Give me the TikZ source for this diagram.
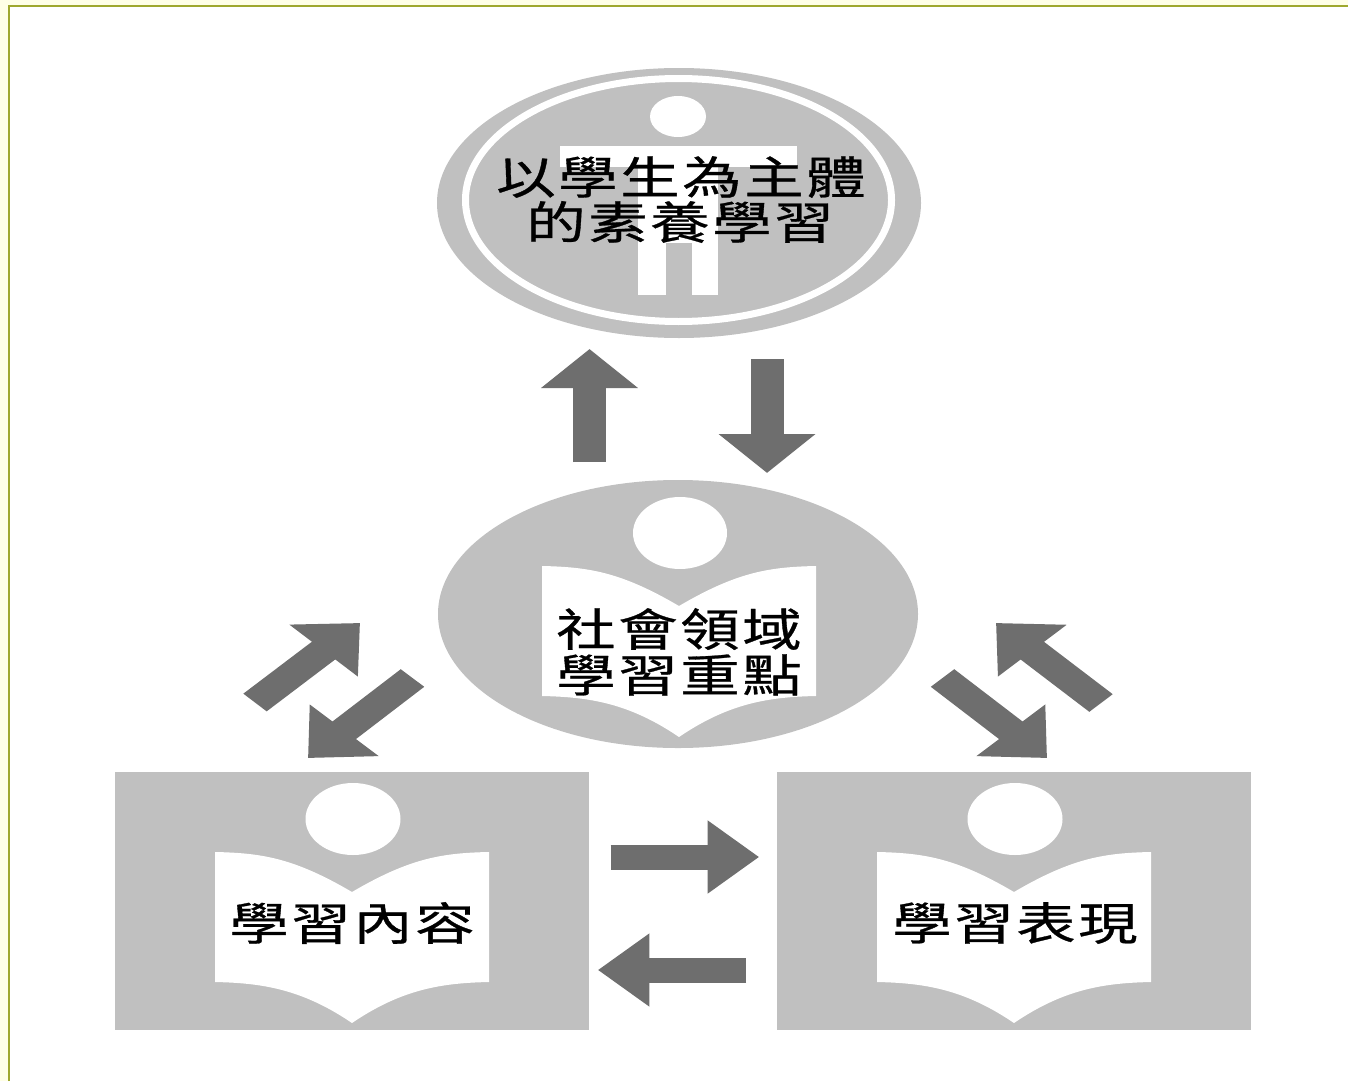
\documentclass[tikz,border=0pt]{standalone}
\usepackage{fontspec}
\newfontfamily\cjkfont[FakeBold=0.6]{Noto Sans CJK TC}
\usetikzlibrary{arrows.meta,calc,positioning,shapes.geometric}
\definecolor{panelgray}{HTML}{C0C0C0}
\definecolor{arrowgray}{HTML}{6E6E6E}
\definecolor{pageyellow}{HTML}{FFFFE6}
\definecolor{frameolive}{HTML}{9FA82E}
\tikzset{
	oval/.style = {ellipse, fill=panelgray, inner sep=0pt},
	head/.style = {ellipse, fill=white, inner sep=0pt},
	panel/.style = {rectangle, fill=panelgray, inner sep=0pt},
	label/.style = {inner sep=0pt, text=black, font=\cjkfont\fontsize{45}{45}\selectfont\addfontfeature{LetterSpace=4.4}},
	bigarrow/.style = {draw=arrowgray, line width=25pt, -{Triangle[length=39pt,width=71pt,fill=arrowgray]}},
	book/.pic = {
		\fill[white] (-137,0) .. controls (-90,1) and (-58,6) .. (0,40)
			.. controls (58,6) and (90,1) .. (137,0) -- (137,130)
			.. controls (90,131) and (50,137) .. (0,171)
			.. controls (-50,137) and (-90,131) .. (-137,130) -- cycle;
	}
}
\newcommand{\stretched}[1]{\scalebox{1.32}[1]{#1}}
\begin{document}
\begin{tikzpicture}[x=1pt,y=-1pt]
	\useasboundingbox (0,0) rectangle (1348,1081);
	\fill[pageyellow] (0,0) rectangle (1348,1081);
	\fill[white] (9,6) rectangle (1348,1081);
	\draw[frameolive, line width=2.5pt] (9,1081) -- (9,6) -- (1348,6);
	% top oval
	\node[oval, minimum width=484pt, minimum height=270pt] (studentoval) at (679,203) {};
	\draw[white, line width=7pt] (678.5,200) ellipse [x radius=213, y radius=121.5];
	\node[head, minimum width=56pt, minimum height=41pt] (studenthead) at (678,116.5) {};
	\fill[white] (560,146) rectangle (797,167);
	\fill[white] (638,167) rectangle (718,295);
	\fill[panelgray] (666,243) rectangle (692,295);
	\node[label] (studentone) at (681,177) {\stretched{以學生為主體}};
	\node[label] (studenttwo) at (680,222) {\stretched{的素養學習}};
	% middle oval
	\node[oval, minimum width=480pt, minimum height=268pt] (focusoval) at (678,614) {};
	\node[head, minimum width=94pt, minimum height=72pt] (focushead) at (680,533) {};
	\pic at (679,566) {book};
	\node[label] (focusone) at (679,629) {\stretched{社會領域}};
	\node[label] (focustwo) at (679,675) {\stretched{學習重點}};
	% bottom boxes
	\node[panel, minimum width=474pt, minimum height=258pt] (contentbox) at (352,901) {};
	\node[head, minimum width=95pt, minimum height=72pt] (contenthead) at (353,819) {};
	\pic at (352,852) {book};
	\node[label] (contenttext) at (352,923) {\stretched{學習內容}};
	\node[panel, minimum width=474pt, minimum height=258pt] (performbox) at (1014,901) {};
	\node[head, minimum width=95pt, minimum height=72pt] (performhead) at (1015,819) {};
	\pic at (1014,852) {book};
	\node[label] (performtext) at (1015,923) {\stretched{學習表現}};
	% arrows
	\begin{scope}[transform canvas={xscale=1.32},x=0.75758pt]
		\coordinate (upa) at (589.5,462);
		\coordinate (upb) at (589.5,349);
		\coordinate (downa) at (767,359);
		\coordinate (downb) at (767,473);
		\coordinate (nea) at (255,702.5);
		\coordinate (neb) at (360,623);
		\coordinate (swa) at (412.5,678);
		\coordinate (swb) at (308,758);
		\coordinate (nwa) at (1101,703);
		\coordinate (nwb) at (996,623);
		\coordinate (sea) at (942.5,678);
		\coordinate (seb) at (1047,758);
		\coordinate (righta) at (610.5,857);
		\coordinate (rightb) at (759,857);
		\coordinate (lefta) at (746,970);
		\coordinate (leftb) at (598,970);
		\draw[bigarrow] (upa) -- (upb);
		\draw[bigarrow] (downa) -- (downb);
		\draw[bigarrow] (nea) -- (neb);
		\draw[bigarrow] (swa) -- (swb);
		\draw[bigarrow] (nwa) -- (nwb);
		\draw[bigarrow] (sea) -- (seb);
		\draw[bigarrow] (righta) -- (rightb);
		\draw[bigarrow] (lefta) -- (leftb);
	\end{scope}
\end{tikzpicture}
\end{document}
